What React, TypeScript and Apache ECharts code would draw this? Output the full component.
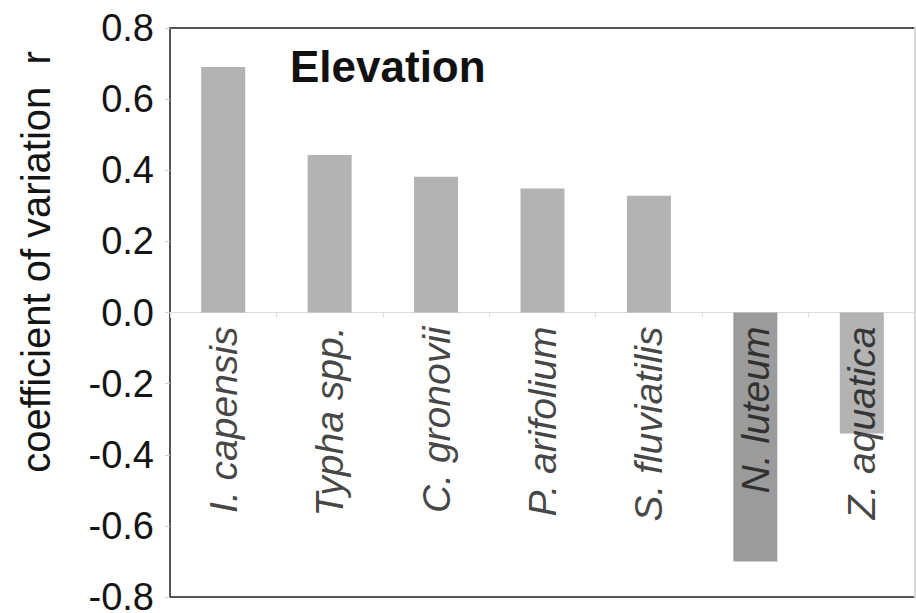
import React, { useEffect, useRef } from "react";
import * as echarts from "echarts";

const species = [
  "I. capensis",
  "Typha spp.",
  "C. gronovii",
  "P. arifolium",
  "S. fluviatilis",
  "N. luteum",
  "Z. aquatica",
];
const correlation = [0.69, 0.443, 0.382, 0.349, 0.328, -0.7, -0.34];
const barColors = ["#b3b3b3", "#b3b3b3", "#b3b3b3", "#b3b3b3", "#b3b3b3", "#9b9b9b", "#b3b3b3"];
const yMin = -0.8;
const yMax = 0.8;
const yStep = 0.2;

const FONT = "'Liberation Sans', Arial, Helvetica, sans-serif";

export default function App() {
  const ref = useRef<HTMLDivElement>(null);

  useEffect(() => {
    if (!ref.current) return;
    const chart = echarts.init(ref.current, undefined, { renderer: "svg" });
    chart.setOption({
      animation: false,
      backgroundColor: "#ffffff",
      textStyle: { fontFamily: FONT },
      grid: {
        left: 170,
        right: 1,
        top: 28,
        bottom: 16,
        containLabel: false,
        outerBoundsMode: "none",
        show: true,
        borderColor: "#565656",
        borderWidth: 2,
      },
      xAxis: [
        {
          type: "category",
          data: species,
          axisLine: { show: true, onZero: true, lineStyle: { color: "#dcdcdc", width: 1 } },
          axisTick: { show: true, interval: 0, length: 5, lineStyle: { color: "#dcdcdc" } },
          axisLabel: { show: false },
          splitLine: { show: false },
        },
      ],
      yAxis: [
        {
          type: "value",
          min: yMin,
          max: yMax,
          interval: yStep,
          axisLine: { show: true, lineStyle: { color: "#565656", width: 2 } },
          axisTick: { show: true, length: 5, lineStyle: { color: "#d0d0d0" } },
          axisLabel: {
            fontSize: 38,
            fontFamily: FONT,
            color: "#141414",
            margin: 16,
            formatter: (v: number) => v.toFixed(1),
          },
          splitLine: { show: false },
        },
        {
          type: "value",
          min: yMin,
          max: yMax,
          interval: yStep,
          position: "right",
          axisLine: { show: true, lineStyle: { color: "#d8d8d8", width: 3 } },
          axisTick: { show: false },
          axisLabel: { show: false },
          splitLine: { show: false },
        },
      ],
      series: [
        {
          type: "bar",
          xAxisIndex: 0,
          yAxisIndex: 0,
          barWidth: 44,
          data: correlation.map((v, i) => ({ value: v, itemStyle: { color: barColors[i] } })),
        },
        {
          // species names hang below the zero line, reading upwards
          type: "scatter",
          xAxisIndex: 0,
          yAxisIndex: 0,
          z: 5,
          symbolSize: 0,
          silent: true,
          data: species.map((name) => [name, 0]),
          label: {
            show: true,
            position: "bottom",
            distance: 14,
            rotate: 90,
            align: "right",
            verticalAlign: "middle",
            formatter: (p: any) => p.name || p.value[0],
            fontSize: 39,
            fontStyle: "italic",
            fontFamily: FONT,
            color: "#141414",
          },
        },
      ],
      graphic: [
        {
          type: "text",
          left: 290,
          top: 44,
          style: {
            text: "Elevation",
            fontSize: 44,
            fontWeight: "bold",
            fontFamily: FONT,
            fill: "#111111",
          },
        },
        {
          type: "text",
          x: 36,
          y: 262,
          rotation: Math.PI / 2,
          style: {
            text: "coefficient of variation  r",
            fontSize: 40,
            fontFamily: FONT,
            fill: "#141414",
            align: "center",
            verticalAlign: "middle",
          },
        },
      ],
    });
    return () => chart.dispose();
  }, []);

  return (
    <div
      ref={ref}
      style={{ position: "absolute", left: 0, top: 0, width: 916, height: 613 }}
    />
  );
}
